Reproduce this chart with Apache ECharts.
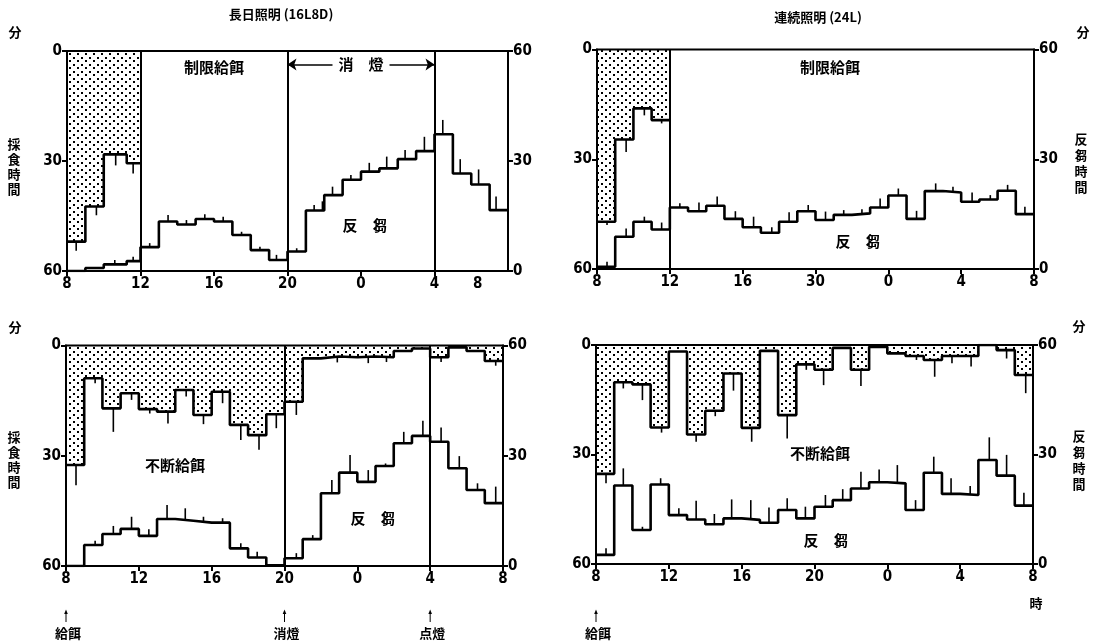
<!DOCTYPE html>
<html><head><meta charset="utf-8">
<script src="https://cdn.jsdelivr.net/npm/echarts@6/dist/echarts.min.js"></script>
<style>html,body{margin:0;padding:0;background:#fff}#c{width:1096px;height:644px}</style>
</head><body><div id="c"></div>
<script>
// ---------- DATA (hours: 8 .. 32 = 8:00 to 8:00 next day; minutes per hour) ----------
const hourEdges = [8, 9, 10, 11, 12, 13, 14, 15, 16, 17, 18, 19, 20, 21, 22, 23, 24, 25, 26, 27, 28, 29, 30, 31, 32];

// Top-left: 長日照明 (16L8D), 制限給餌
const tlEatEdges = [8, 9, 10, 11.25, 12];
const tlEat = [52, 42.4, 28.2, 30.6];
const tlEatErr = [[8.5, 54.5], [9.6, 44.8], [10.65, 31.2], [11.6, 33.4]];
const tlRumEdges = [8, 9, 10, 11.25, 12, 13, 14, 15, 16, 17, 18, 19, 20, 21, 22, 23, 24, 25, 26, 27, 28, 29, 30, 31, 32];
const tlRum = [0, 0.8, 1.8, 2.7, 6.5, 13.5, 12.7, 14.2, 13.5, 9.8, 5.7, 3.0, 5.3, 16.5, 20.7, 24.9, 27.1, 28.0, 30.5, 32.7, 37.3, 26.6, 23.6, 16.6];
const tlRumErr = [[10.6, 3.0], [11.6, 3.9], [12.5, 7.6], [13.5, 15.3], [14.5, 13.9], [15.5, 15.5], [16.5, 14.8], [17.5, 10.7], [18.5, 6.6], [19.4, 4.4], [20.5, 6.2], [21.45, 18.0], [21.9, 19.0], [22.45, 23.0], [23.45, 26.2], [24.45, 29.5], [25.4, 31.2], [26.4, 33.0], [27.45, 36.6], [28.45, 41.2], [29.4, 30.5], [30.4, 27.7], [31.35, 20.3]];
const tlDividers = [12, 20, 28];
const tlLightsOff = [20, 28];
const tlTickPos = [8, 12, 16, 20, 24, 28, 30.35];
const tlTickText = ['8', '12', '16', '20', '0', '4', '8'];

// Top-right: 連続照明 (24L), 制限給餌
const trEatEdges = [8, 9, 10, 11, 12];
const trEat = [47.1, 24.6, 16.1, 19.3];
const trEatErr = [[8.55, 48.0], [9.6, 28.0], [10.6, 18.0], [11.55, 20.2]];
const trRum = [0.6, 8.8, 12.9, 10.8, 16.8, 15.8, 17.3, 13.7, 11.4, 9.9, 12.9, 15.8, 13.4, 14.8, 15.2, 16.8, 20.1, 13.7, 21.3, 20.9, 18.4, 19.0, 21.4, 15.0];
const trRumErr = [[8.55, 2.0], [9.6, 11.1], [10.6, 14.3], [11.55, 12.7], [12.55, 18.0], [13.6, 18.2], [14.6, 19.8], [15.6, 15.8], [16.6, 14.3], [17.6, 11.4], [18.55, 15.5], [19.6, 17.5], [20.55, 15.7], [21.55, 16.1], [22.55, 16.3], [23.55, 19.3], [24.55, 22.0], [25.55, 15.9], [26.6, 23.4], [27.55, 22.5], [28.6, 20.9], [29.6, 20.2], [30.55, 23.0], [31.5, 17.0]];
const trDividers = [12];
const trTickPos = [8, 12, 16, 20, 24, 28, 32];
const trTickText = ['8', '12', '16', '30', '0', '4', '8'];

// Bottom-left: 長日照明, 不断給餌
const blEat = [32.5, 8.9, 17.1, 13.0, 17.3, 18.0, 12.1, 18.9, 12.6, 21.6, 24.4, 18.7, 15.3, 3.5, 3.0, 3.2, 3.0, 3.2, 1.5, 0.8, 3.2, 0.5, 1.5, 4.2];
const blEatErr = [[8.55, 38.0], [9.6, 10.3], [10.6, 23.5], [11.6, 14.8], [12.6, 18.5], [13.6, 21.2], [14.6, 13.9], [15.55, 21.4], [16.6, 15.7], [17.6, 25.7], [18.6, 28.4], [19.55, 22.5], [20.65, 18.9], [22.9, 4.6], [24.6, 4.8], [25.6, 4.5], [28.6, 4.5], [31.6, 5.5]];
const blRum = [0, 5.7, 8.7, 10.1, 8.2, 12.8, 12.3, 11.8, 11.8, 4.8, 2.3, 0.2, 2.1, 7.3, 19.8, 25.4, 22.9, 27.2, 33.4, 35.4, 33.8, 26.6, 20.7, 17.1];
const blRumErr = [[9.6, 6.9], [10.6, 10.9], [11.6, 13.4], [12.55, 10.0], [13.55, 16.6], [14.55, 15.7], [15.55, 13.4], [16.6, 13.0], [17.6, 6.2], [18.5, 3.9], [20.65, 3.5], [21.55, 8.4], [22.6, 23.4], [23.6, 30.2], [24.6, 26.1], [25.55, 27.9], [26.55, 36.5], [27.6, 39.5], [28.6, 37.7], [29.6, 29.9], [30.6, 22.5], [31.6, 21.6]];
const blDividers = [20, 28];

// Bottom-right: 連続照明, 不断給餌
const brEat = [35.3, 10.2, 10.8, 22.6, 1.8, 24.5, 18.0, 7.8, 22.7, 1.6, 19.2, 5.3, 6.8, 0.8, 6.8, 0.5, 2.3, 3.0, 4.1, 3.0, 3.0, 0, 1.4, 8.2];
const brEatErr = [[8.55, 37.9], [9.5, 11.9], [10.55, 15.1], [11.6, 24.0], [13.5, 26.5], [14.55, 19.5], [15.55, 12.5], [16.55, 26.5], [18.5, 25.6], [19.55, 6.8], [20.5, 11.0], [22.55, 11.2], [25.6, 4.1], [26.6, 8.7], [27.55, 5.0], [28.6, 5.9], [30.55, 3.7], [31.6, 13.2]];
const brRum = [2.5, 21.5, 9.3, 21.8, 13.4, 12.2, 10.9, 12.5, 12.1, 11.3, 14.8, 12.5, 15.7, 17.5, 20.7, 22.4, 22.1, 14.8, 25.0, 19.2, 18.9, 28.5, 24.2, 16.0];
const brRumErr = [[8.55, 4.3], [9.5, 26.2], [10.55, 10.2], [11.55, 23.5], [12.55, 15.3], [13.5, 17.3], [14.5, 13.7], [15.45, 17.7], [16.5, 17.5], [17.5, 15.5], [18.5, 18.0], [19.5, 15.7], [20.6, 18.9], [21.55, 20.5], [22.55, 25.3], [23.55, 25.9], [24.55, 27.1], [25.55, 17.5], [26.55, 29.4], [27.5, 23.5], [28.55, 21.4], [29.6, 34.7], [30.55, 29.9], [31.5, 19.5]];

const bottomTickPos = [8, 12, 16, 20, 24, 28, 32];
const bottomTickText = ['8', '12', '16', '20', '0', '4', '8'];
const yTicks = [0, 30, 60];

// events under the bottom panels
const eventMarks = [
  { axis: 2, hour: 8, text: '給餌' },
  { axis: 2, hour: 20, text: '消燈' },
  { axis: 2, hour: 28, text: '点燈' },
  { axis: 3, hour: 8, text: '給餌' }
];

// ---------- BUILD ----------
const NUM_FONT = '"Liberation Sans Narrow", "DejaVu Sans Condensed", "Liberation Sans", sans-serif';
const CJK = '"Noto Sans CJK JP", "Noto Sans CJK SC", sans-serif';

function steps(edges, vals) {
  const d = [];
  vals.forEach((v, i) => { d.push([edges[i], v]); d.push([edges[i + 1], v]); });
  return d;
}
function valueAt(edges, vals, x) {
  for (let i = 0; i < vals.length; i++) if (x >= edges[i] && x < edges[i + 1]) return vals[i];
  return vals[vals.length - 1];
}
function errData(edges, vals, errs) {
  return errs.map(e => [e[0], valueAt(edges, vals, e[0]), e[1]]);
}

// stippled fill (staggered dots)
const pat = document.createElement('canvas');
pat.width = 8; pat.height = 7;
const pg = pat.getContext('2d');
pg.fillStyle = '#000';
pg.fillRect(1, 1, 2, 2);
pg.fillRect(5, 4, 2, 2);

const panels = [
  { grid: { left: 67, top: 51, width: 441, height: 220 }, eatEdges: tlEatEdges, eat: tlEat, eatErr: tlEatErr, rumEdges: tlRumEdges, rum: tlRum, rumErr: tlRumErr, dividers: tlDividers, tickPos: tlTickPos, tickText: tlTickText, arrow: tlLightsOff },
  { grid: { left: 597, top: 49.5, width: 437, height: 219.5 }, eatEdges: trEatEdges, eat: trEat, eatErr: trEatErr, rumEdges: hourEdges, rum: trRum, rumErr: trRumErr, dividers: trDividers, tickPos: trTickPos, tickText: trTickText },
  { grid: { left: 66, top: 345.5, width: 437, height: 220.5 }, eatEdges: hourEdges, eat: blEat, eatErr: blEatErr, rumEdges: hourEdges, rum: blRum, rumErr: blRumErr, dividers: blDividers, tickPos: bottomTickPos, tickText: bottomTickText },
  { grid: { left: 596, top: 345, width: 437, height: 219 }, eatEdges: hourEdges, eat: brEat, eatErr: brEatErr, rumEdges: hourEdges, rum: brRum, rumErr: brRumErr, dividers: [], tickPos: bottomTickPos, tickText: bottomTickText }
];

const axisLine = { show: true, onZero: false, lineStyle: { color: '#000', width: 2 } };
const numLabel = { color: '#000', fontSize: 15, fontWeight: 'bold', fontFamily: NUM_FONT };

const grids = [], xAxes = [], yAxes = [], series = [];
function errSeries(xi, yi, data) {
  return {
    type: 'custom', xAxisIndex: xi, yAxisIndex: yi, data: data, silent: true, z: 4,
    encode: { x: 0, y: [1, 2] },
    renderItem: (params, api) => {
      const p1 = api.coord([api.value(0), api.value(1)]);
      const p2 = api.coord([api.value(0), api.value(2)]);
      return { type: 'line', shape: { x1: p1[0], y1: p1[1], x2: p2[0], y2: p2[1] }, style: { stroke: '#000', lineWidth: 1.6 } };
    }
  };
}

panels.forEach((p, i) => {
  grids.push(Object.assign({ show: true, borderColor: '#000', borderWidth: 2, backgroundColor: 'transparent' }, p.grid));
  xAxes.push({
    gridIndex: i, type: 'value', min: 8, max: 32, interval: 4,
    axisLine: axisLine,
    axisTick: { show: true, length: 5, lineStyle: { color: '#000', width: 2 }, customValues: p.tickPos.filter(v => v !== 30.35) },
    axisLabel: Object.assign({ margin: 6, customValues: p.tickPos, formatter: v => p.tickText[p.tickPos.indexOf(v)] }, numLabel),
    splitLine: { show: false }
  });
  yAxes.push({
    gridIndex: i, type: 'value', min: 0, max: 60, interval: 30, inverse: true, position: 'left',
    axisLine: axisLine, axisTick: { show: true, length: 5, lineStyle: { color: '#000', width: 2 } },
    axisLabel: Object.assign({ margin: 5 }, numLabel), splitLine: { show: false }
  });
  yAxes.push({
    gridIndex: i, type: 'value', min: 0, max: 60, interval: 30, position: 'right',
    axisLine: axisLine, axisTick: { show: true, length: 5, lineStyle: { color: '#000', width: 2 } },
    axisLabel: Object.assign({ margin: 5 }, numLabel), splitLine: { show: false }
  });
  series.push({
    type: 'line', xAxisIndex: i, yAxisIndex: 2 * i, data: steps(p.eatEdges, p.eat),
    showSymbol: false, symbol: 'none', z: 3,
    lineStyle: { color: '#000', width: 2.6 },
    areaStyle: { origin: 'start', color: { image: pat, repeat: 'repeat' }, opacity: 1 }
  });
  const ml = p.dividers.map(d => ({ xAxis: d }));
  if (p.arrow) {
    ml.push([
      { coord: [p.arrow[0], 56.3], symbol: 'arrow', symbolSize: 9, lineStyle: { width: 1.5 }, label: { show: true, formatter: '消　燈', position: 'middle', color: '#000', fontSize: 15, fontFamily: CJK, fontWeight: 'bold', backgroundColor: '#fff', padding: [0, 6], verticalAlign: 'middle', distance: 0 } },
      { coord: [p.arrow[1], 56.3], symbol: 'arrow', symbolSize: 9 }
    ]);
  }
  series.push({
    type: 'line', xAxisIndex: i, yAxisIndex: 2 * i + 1, data: steps(p.rumEdges, p.rum),
    showSymbol: false, symbol: 'none', z: 3,
    lineStyle: { color: '#000', width: 2.6 },
    markLine: {
      silent: true, symbol: ['none', 'none'], animation: false,
      lineStyle: { color: '#000', width: 2, type: 'solid' },
      label: { show: false },
      data: ml
    }
  });
  series.push(errSeries(i, 2 * i, errData(p.eatEdges, p.eat, p.eatErr)));
  series.push(errSeries(i, 2 * i + 1, errData(p.rumEdges, p.rum, p.rumErr)));
});

function txt(x, y, text, size, extra) {
  return Object.assign({
    type: 'text', x: x, y: y, silent: true,
    style: Object.assign({ text: text, fill: '#000', fontSize: size, fontFamily: CJK, fontWeight: 'bold', align: 'center', verticalAlign: 'middle' }, extra || {})
  });
}
const notes = [
  txt(281, 14, '長日照明 (16L8D)', 13),
  txt(818, 17, '連続照明 (24L)', 13),
  txt(214, 67, '制限給餌', 15),
  txt(830, 67, '制限給餌', 15),
  txt(365, 225, '反　芻', 15),
  txt(858, 241, '反　芻', 15),
  txt(175, 465, '不断給餌', 15),
  txt(373, 518, '反　芻', 15),
  txt(820, 453, '不断給餌', 15),
  txt(826, 540, '反　芻', 15),
  txt(15, 32, '分', 13),
  txt(1083, 32, '分', 13),
  txt(15, 327, '分', 13),
  txt(1079, 326, '分', 13),
  txt(1036, 603, '時', 13),
  txt(14, 167, '採\n食\n時\n間', 13, { lineHeight: 15 }),
  txt(14, 460, '採\n食\n時\n間', 13, { lineHeight: 15 }),
  txt(1081, 163, '反\n芻\n時\n間', 13, { lineHeight: 16 }),
  txt(1079, 460, '反\n芻\n時\n間', 13, { lineHeight: 16 })
];

const chart = echarts.init(document.getElementById('c'), null, { renderer: 'canvas' });
chart.setOption({
  animation: false, backgroundColor: '#fff',
  grid: grids, xAxis: xAxes, yAxis: yAxes, series: series,
  graphic: notes
});

eventMarks.forEach(m => {
  const x = chart.convertToPixel({ xAxisIndex: m.axis }, m.hour);
  notes.push({ type: 'line', silent: true, shape: { x1: x, y1: 622, x2: x, y2: 612 }, style: { stroke: '#000', lineWidth: 1 } });
  notes.push({ type: 'polygon', silent: true, shape: { points: [[x - 1.8, 614], [x + 1.8, 614], [x, 609.5]] }, style: { fill: '#000' } });
  notes.push(txt(x + 2, 633, m.text, 13));
});
chart.setOption({ graphic: notes });
</script></body></html>
